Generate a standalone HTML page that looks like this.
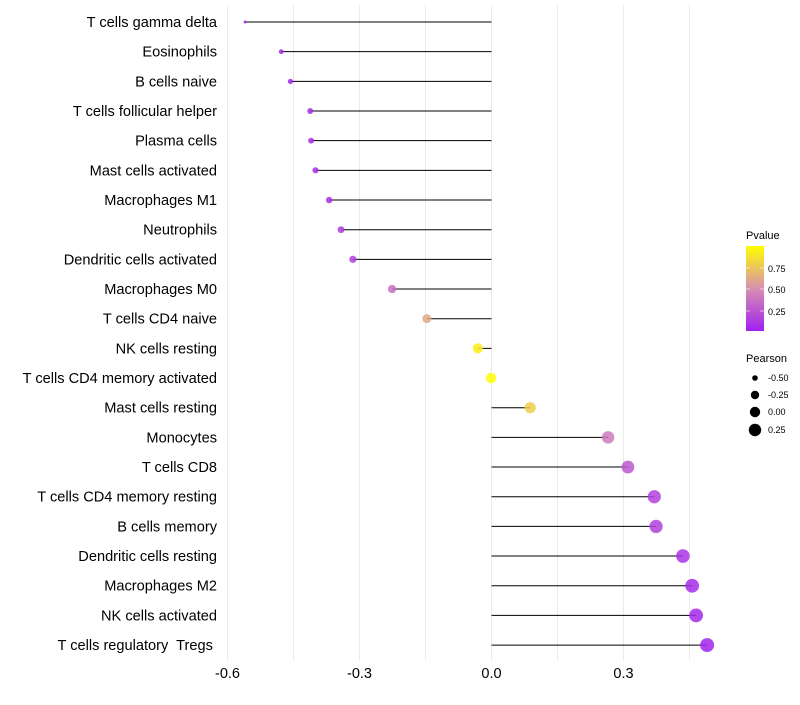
<!DOCTYPE html>
<html><head><meta charset="utf-8"><style>
body{margin:0;background:#fff;font-family:"Liberation Sans",sans-serif}
svg text{font-family:"Liberation Sans",sans-serif;white-space:pre}
</style></head><body>
<svg id="chart" width="800" height="700">
<defs><linearGradient id="pg" x1="0" y1="1" x2="0" y2="0">
<stop offset="0" stop-color="#a020f0"/><stop offset="0.5" stop-color="#d88fb0"/><stop offset="1" stop-color="#ffff00"/>
</linearGradient></defs>
<g id="grid"></g><g id="marks"></g><g id="labels"></g>
<g>
<text x="746" y="239" font-size="11">Pvalue</text>
<rect x="746" y="246" width="18" height="85" fill="url(#pg)"/>
<g stroke="#fff" stroke-opacity="0.6"><line x1="746" y1="268" x2="750" y2="268"/><line x1="760" y1="268" x2="764" y2="268"/><line x1="746" y1="289" x2="750" y2="289"/><line x1="760" y1="289" x2="764" y2="289"/><line x1="746" y1="311" x2="750" y2="311"/><line x1="760" y1="311" x2="764" y2="311"/></g>
<text x="768" y="272" font-size="9">0.75</text><text x="768" y="293" font-size="9">0.50</text><text x="768" y="315" font-size="9">0.25</text>
</g>
<g>
<text x="746" y="362" font-size="11">Pearson</text>
<circle cx="755" cy="378" r="2.8"/><text x="768" y="381" font-size="9">-0.50</text>
<circle cx="755" cy="395" r="4.2"/><text x="768" y="398" font-size="9">-0.25</text>
<circle cx="755" cy="412" r="5.2"/><text x="768" y="415" font-size="9">0.00</text>
<circle cx="755" cy="430" r="6.2"/><text x="768" y="433" font-size="9">0.25</text>
</g>
</svg>
<script>
const categories=["T cells gamma delta","Eosinophils","B cells naive","T cells follicular helper","Plasma cells","Mast cells activated","Macrophages M1","Neutrophils","Dendritic cells activated","Macrophages M0","T cells CD4 naive","NK cells resting","T cells CD4 memory activated","Mast cells resting","Monocytes","T cells CD8","T cells CD4 memory resting","B cells memory","Dendritic cells resting","Macrophages M2","NK cells activated","T cells regulatory  Tregs "];
const pearson=[-0.56,-0.478,-0.457,-0.412,-0.41,-0.40,-0.369,-0.342,-0.315,-0.226,-0.147,-0.031,-0.001,0.088,0.265,0.31,0.37,0.374,0.435,0.456,0.465,0.49];
const pvalues=[0.02,0.02,0.03,0.05,0.06,0.07,0.09,0.12,0.15,0.35,0.62,0.93,0.99,0.78,0.4,0.25,0.15,0.15,0.08,0.05,0.04,0.02];
const xTicks=[-0.6,-0.3,0.0,0.3];
const xTickLabels=["-0.6","-0.3","0.0","0.3"];
const minorTicks=[-0.45,-0.15,0.15,0.45];
const NS="http://www.w3.org/2000/svg";
const x=v=>491.5+v*440;
const y=i=>22+i*29.67;
const rad=v=>Math.sqrt(2.25+44.5*(v+0.56));
function mix(a,b,t){const pa=[parseInt(a.slice(1,3),16),parseInt(a.slice(3,5),16),parseInt(a.slice(5,7),16)],pb=[parseInt(b.slice(1,3),16),parseInt(b.slice(3,5),16),parseInt(b.slice(5,7),16)];return "rgb("+pa.map((c,k)=>Math.round(c+(pb[k]-c)*t)).join(",")+")";}
const col=p=>p<0.5?mix("#a020f0","#d88fb0",p/0.5):mix("#d88fb0","#ffff00",(p-0.5)/0.5);
function mk(t,at,par){const e=document.createElementNS(NS,t);for(const k in at)e.setAttribute(k,at[k]);document.getElementById(par).appendChild(e);return e;}
[...xTicks,...minorTicks].forEach(v=>{const l=mk("line",{x1:x(v),x2:x(v),y1:5,y2:660,stroke:"#ebebeb","stroke-width":1},"grid");

});
xTicks.forEach((v,i)=>{const t=mk("text",{x:x(v),y:678,"font-size":14.5,"text-anchor":"middle"},"labels");t.textContent=xTickLabels[i];

});
categories.forEach((c,i)=>{
const t=mk("text",{x:217,y:y(i)+5,"font-size":14.6,"text-anchor":"end"},"labels");t.textContent=c;


const l=mk("line",{x1:x(0),x2:x(pearson[i]),y1:y(i),y2:y(i),stroke:"#000","stroke-width":1},"marks");


const p=mk("circle",{cx:x(pearson[i]),cy:y(i),r:rad(pearson[i]),fill:col(pvalues[i]),"fill-opacity":0.85},"marks");


});
</script>
</body></html>
